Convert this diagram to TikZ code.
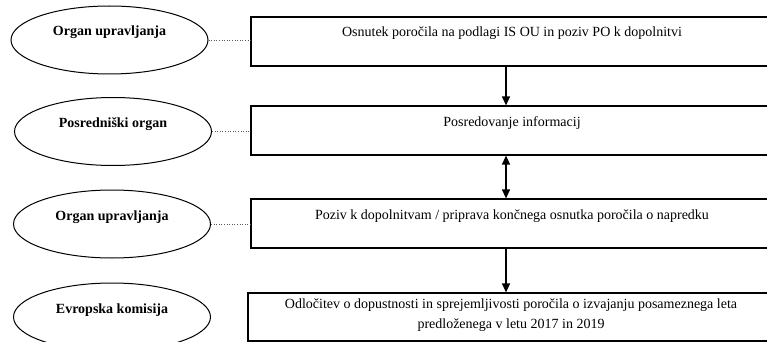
\documentclass[tikz,border=0pt]{standalone}
\usepackage{fontspec}
\setmainfont{Liberation Serif}
\usetikzlibrary{shapes.geometric,arrows.meta}

\begin{document}
\begin{tikzpicture}[x=1pt,y=-1pt,
    organ/.style={ellipse,draw,line width=1pt,minimum width=197pt,minimum height=68pt,
        inner sep=0pt,font=\fontsize{14}{16}\selectfont\bfseries,text height=10pt,text depth=18pt},
    korak/.style={rectangle,draw,line width=1.2pt,minimum width=522pt,inner sep=0pt,
        font=\fontsize{14}{20}\selectfont,align=center},
    puscica/.style={line width=1.3pt,-{Triangle[length=9pt,width=8pt]}},
    dvosmerna/.style={line width=1.3pt,{Triangle[length=9pt,width=8pt]}-{Triangle[length=9pt,width=8pt]}},
    pika/.style={dotted,line width=0.6pt,gray!70!black}]
    \useasboundingbox (0,0) rectangle (767,342);
    \clip (0,0) rectangle (767,342);
    \node[organ] (ou1) at (109.5,40) {Organ upravljanja};
    \node[organ] (po) at (113,131.5) {Posredniški organ};
    \node[organ] (ou2) at (112,224) {Organ upravljanja};
    \node[organ] (ek) at (112,317) {Evropska komisija};
    \node[korak,text height=20pt,text depth=29pt] (k1) at (512,41.5)
        {Osnutek poročila na podlagi IS OU in poziv PO k dopolnitvi};
    \node[korak,text height=20pt,text depth=29pt] (k2) at (512,130.5) {Posredovanje informacij};
    \node[korak,text height=20pt,text depth=29pt] (k3) at (512,223.5)
        {Poziv k dopolnitvam / priprava končnega osnutka poročila o napredku};
    \node[korak,minimum width=526pt,text height=35pt,text depth=13pt] (k4) at (511,317)
        {Odločitev o dopustnosti in sprejemljivosti poročila o izvajanju posameznega leta\\
        predloženega v letu 2017 in 2019};
    \coordinate (os) at (506,0);
    \draw[pika] (ou1.east) -- (ou1.east -| k1.west);
    \draw[pika] (po.east) -- (po.east -| k2.west);
    \draw[pika] (ou2.east) -- (ou2.east -| k3.west);
    \draw[puscica] (k1.south -| os) -- (k2.north -| os);
    \draw[dvosmerna] (k2.south -| os) -- (k3.north -| os);
    \draw[puscica] (k3.south -| os) -- (k4.north -| os);
\end{tikzpicture}
\end{document}
